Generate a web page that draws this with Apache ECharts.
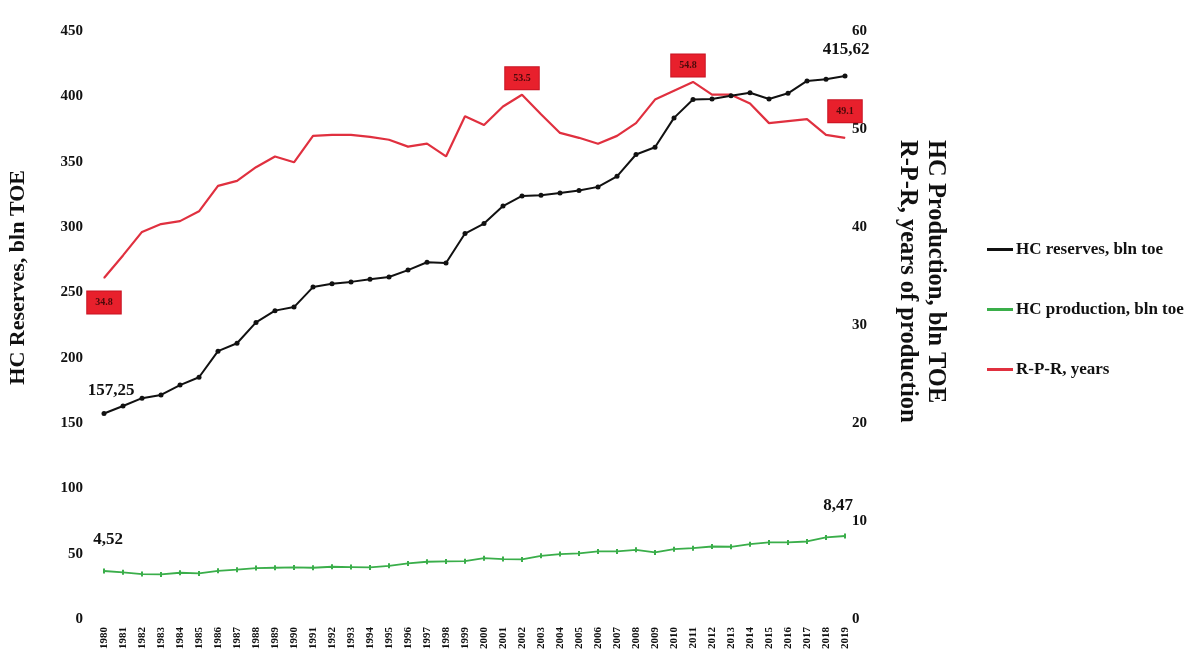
<!DOCTYPE html>
<html>
<head>
<meta charset="utf-8">
<script src="https://cdn.jsdelivr.net/npm/echarts@6/dist/echarts.min.js"></script>
<style>
html,body{margin:0;padding:0;background:#fff;}
#c{width:1191px;height:659px;}
</style>
</head>
<body>
<div id="c"></div>
<script>
const years = ['1980','1981','1982','1983','1984','1985','1986','1987','1988','1989','1990','1991','1992','1993','1994','1995','1996','1997','1998','1999','2000','2001','2002','2003','2004','2005','2006','2007','2008','2009','2010','2011','2012','2013','2014','2015','2016','2017','2018','2019'];
const reserves = [157.25,163,169,171.5,179,185,205,211,227,236,238.7,254,256.6,258,260,261.7,267,273,272.4,295,302.6,316,323.8,324.3,326,328,330.7,338.8,355.5,361,383.5,397.6,398,400.4,402.7,398,402.3,411.8,413,415.62];
const production = [4.9,4.76,4.58,4.55,4.72,4.65,4.92,5.03,5.2,5.23,5.26,5.23,5.33,5.3,5.26,5.43,5.67,5.84,5.88,5.9,6.21,6.11,6.08,6.45,6.62,6.69,6.9,6.9,7.06,6.79,7.13,7.23,7.4,7.37,7.64,7.81,7.81,7.91,8.32,8.47];
const rpr = [34.8,37.1,39.5,40.3,40.6,41.6,44.2,44.7,46.1,47.2,46.6,49.3,49.4,49.4,49.2,48.9,48.2,48.5,47.2,51.3,50.4,52.3,53.5,51.5,49.6,49.1,48.5,49.3,50.6,53.0,53.9,54.8,53.5,53.5,52.6,50.6,50.8,51.0,49.4,49.1];
const reservesLabels = {0:'157,25', 39:'415,62'};
const productionLabels = {0:'4,52', 39:'8,47'};
const rprLabels = {0:'34.8', 22:'53.5', 31:'54.8', 39:'49.1'};
const leftTicks = [0,50,100,150,200,250,300,350,400,450];
const rightTicks = [0,10,20,30,40,50,60];

const SERIF = 'Liberation Serif';
const chart = echarts.init(document.getElementById('c'));

function withLabels(values, labels, style){
  return values.map((v,i)=> labels[i] !== undefined
    ? {value:v, label:Object.assign({show:true, formatter:labels[i]}, style(i))}
    : v);
}

const blackLabelStyle = i => i===0
  ? {position:'top', offset:[7,0], distance:12, color:'#111', fontFamily:SERIF, fontWeight:'bold', fontSize:17}
  : {position:'top', distance:15, offset:[1,0], color:'#111', fontFamily:SERIF, fontWeight:'bold', fontSize:17};
const greenLabelStyle = i => ({position:'top', distance:i===0?20:19, offset:[i===0?4:-7,0], color:'#111', fontFamily:SERIF, fontWeight:'bold', fontSize:17});
const redLabelStyle = i => ({
  position: i===0 ? 'bottom' : 'top',
  distance: i===0 ? 13 : (i===39 ? 15 : 5),
  offset: i===31 ? [-5,0] : [0,0],
  backgroundColor:'#e8202c', borderColor:'#c81020', borderWidth:1,
  padding:[6,8], color:'#4a0a0a', fontFamily:SERIF, fontWeight:'bold', fontSize:10
});

chart.setOption({
  animation:false,
  backgroundColor:'#fff',
  grid:{left:104, right:346, top:31, bottom:40},
  legend:{
    orient:'vertical', left:982, top:236, itemGap:43, itemWidth:26, itemHeight:3, icon:'rect',
    textStyle:{fontFamily:SERIF, fontWeight:'bold', fontSize:17, color:'#111', padding:[0,0,0,-2]},
    data:['HC reserves, bln toe','HC production, bln toe','R-P-R, years']
  },
  xAxis:{
    type:'category', data:years, boundaryGap:false,
    axisLine:{show:false}, axisTick:{show:false}, splitLine:{show:false},
    axisLabel:{rotate:90, interval:0, margin:8, fontFamily:SERIF, fontWeight:'bold', fontSize:11, color:'#111'}
  },
  yAxis:[
    {type:'value', min:leftTicks[0], max:leftTicks[leftTicks.length-1], interval:50,
     axisLine:{show:false}, axisTick:{show:false}, splitLine:{show:false},
     axisLabel:{margin:21, fontFamily:SERIF, fontWeight:'bold', fontSize:15, color:'#111'}},
    {type:'value', min:rightTicks[0], max:rightTicks[rightTicks.length-1], interval:10, position:'right',
     axisLine:{show:false}, axisTick:{show:false}, splitLine:{show:false},
     axisLabel:{margin:7, fontFamily:SERIF, fontWeight:'bold', fontSize:15, color:'#111'}}
  ],
  graphic:[
    {type:'text', left:7, top:170, rotation:Math.PI/2, style:{text:'HC Reserves, bln TOE', fontFamily:SERIF, fontWeight:'bold', fontSize:22, fill:'#111'}},
    {type:'text', x:948, y:140, rotation:-Math.PI/2, style:{text:'HC Production, bln TOE', fontFamily:SERIF, fontWeight:'bold', fontSize:24.5, fill:'#111'}},
    {type:'text', x:920, y:140, rotation:-Math.PI/2, style:{text:'R-P-R, years of production', fontFamily:SERIF, fontWeight:'bold', fontSize:24.5, fill:'#111'}}
  ],
  series:[
    {name:'HC reserves, bln toe', type:'line', yAxisIndex:0,
     data:withLabels(reserves, reservesLabels, blackLabelStyle),
     symbol:'circle', symbolSize:5, lineStyle:{color:'#111', width:2}, itemStyle:{color:'#111'}, z:3},
    {name:'HC production, bln toe', type:'line', yAxisIndex:1,
     data:withLabels(production, productionLabels, greenLabelStyle),
     symbol:'rect', symbolSize:[2,5], lineStyle:{color:'#3aae4a', width:1.8}, itemStyle:{color:'#3aae4a'}},
    {name:'R-P-R, years', type:'line', yAxisIndex:1,
     data:withLabels(rpr, rprLabels, redLabelStyle),
     symbol:'circle', symbolSize:1, showAllSymbol:true,
     lineStyle:{color:'#e0303f', width:2.2}, itemStyle:{color:'#e0303f'}, z:2}
  ]
});
</script>
</body>
</html>
